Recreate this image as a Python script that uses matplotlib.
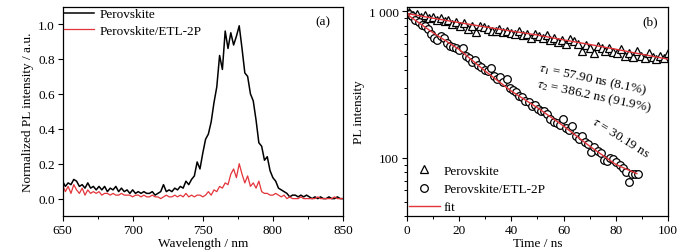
import numpy as np
import matplotlib
matplotlib.use("Agg")
import matplotlib.pyplot as plt
from matplotlib.ticker import MultipleLocator, FixedLocator, FixedFormatter, LogLocator, NullFormatter

plt.rcParams['font.family'] = ['Liberation Serif', 'DejaVu Serif']
plt.rcParams['mathtext.fontset'] = 'stix'
plt.rcParams['font.size'] = 9.5

# ---------------- Panel (a): PL spectra ----------------
wavelength = np.arange(650, 851, 2)
pl_perovskite = [
    0.10, 0.07, 0.09, 0.08, 0.11, 0.10, 0.07, 0.08, 0.06, 0.09,
    0.06, 0.07, 0.05, 0.07, 0.05, 0.07, 0.04, 0.06, 0.05, 0.07,
    0.04, 0.06, 0.04, 0.05, 0.03, 0.05, 0.03, 0.04, 0.03, 0.04,
    0.03, 0.03, 0.04, 0.02, 0.03, 0.04, 0.08, 0.04, 0.05, 0.04,
    0.06, 0.05, 0.07, 0.06, 0.10, 0.08, 0.11, 0.13, 0.21, 0.17,
    0.26, 0.34, 0.37, 0.44, 0.55, 0.64, 0.82, 0.74, 0.96, 0.86,
    0.95, 0.88, 0.93, 0.99, 0.86, 0.72, 0.70, 0.60, 0.56, 0.45,
    0.32, 0.30, 0.22, 0.24, 0.16, 0.12, 0.10, 0.06, 0.05, 0.04,
    0.03, 0.01, 0.02, 0.02, 0.01, 0.02, 0.01, 0.02, 0.01, 0.00,
    0.01, 0.00, 0.01, 0.00, 0.00, 0.01, 0.00, 0.00, 0.01, 0.00,
    0.00]
pl_etl = [
    0.08, 0.04, 0.07, 0.03, 0.08, 0.05, 0.03, 0.06, 0.02, 0.05,
    0.03, 0.04, 0.03, 0.04, 0.02, 0.03, 0.03, 0.02, 0.03, 0.02,
    0.02, 0.03, 0.02, 0.02, 0.02, 0.01, 0.02, 0.02, 0.01, 0.02,
    0.01, 0.01, 0.02, 0.01, 0.01, 0.00, 0.01, 0.02, 0.01, 0.01,
    0.02, 0.01, 0.02, 0.01, 0.03, 0.01, 0.02, 0.01, 0.02, 0.02,
    0.01, 0.02, 0.04, 0.02, 0.05, 0.04, 0.07, 0.06, 0.09, 0.08,
    0.14, 0.17, 0.12, 0.20, 0.14, 0.09, 0.13, 0.07, 0.09, 0.06,
    0.10, 0.04, 0.03, 0.03, 0.02, 0.02, 0.03, 0.02, 0.01, 0.02,
    0.00, 0.01, 0.00, 0.00, 0.00, 0.01, 0.00, 0.00, 0.00, 0.00,
    0.00, 0.01, 0.00, 0.00, 0.00, 0.00, 0.00, 0.01, 0.00, 0.00,
    0.00]

# ---------------- Panel (b): TRPL decay ----------------
t_perov = [1.0, 2.5, 4.0, 5.5, 7.0, 8.5, 10.0, 11.5, 13.0, 14.5,
           16.0, 17.5, 19.0, 20.5, 22.0, 23.5, 25.0, 26.5, 28.0, 29.5,
           31.0, 32.5, 34.0, 35.5, 37.0, 38.5, 40.0, 41.5, 43.0, 44.5,
           46.0, 47.5, 49.0, 50.5, 52.0, 53.5, 55.0, 56.5, 58.0, 59.5,
           61.0, 62.5, 64.0, 65.5, 67.0, 68.5, 70.0, 71.5, 73.0, 74.5,
           76.0, 77.5, 79.0, 80.5, 82.0, 83.5, 85.0, 86.5, 88.0, 89.5,
           91.0, 92.5, 94.0, 95.5, 97.0, 98.5, 100.0]
i_perov = [990, 950, 960, 920, 940, 900, 910, 880, 900, 860,
           870, 820, 850, 800, 830, 760, 790, 720, 800, 780,
           760, 740, 730, 760, 720, 740, 710, 700, 730, 690,
           700, 660, 700, 680, 660, 690, 640, 660, 620, 640,
           600, 650, 630, 600, 540, 590, 560, 520, 580, 560,
           540, 560, 530, 520, 550, 500, 520, 490, 540, 500,
           480, 520, 490, 470, 500, 480, 520]
t_etl = [1.0, 2.2, 3.4, 4.6, 5.8, 7.0, 8.2, 9.4, 10.6, 11.8,
         13.0, 14.2, 15.4, 16.6, 17.8, 19.0, 20.2, 21.4, 22.6, 23.8,
         25.0, 26.2, 27.4, 28.6, 29.8, 31.0, 32.2, 33.4, 34.6, 35.8,
         37.0, 38.2, 39.4, 40.6, 41.8, 43.0, 44.2, 45.4, 46.6, 47.8,
         49.0, 50.2, 51.4, 52.6, 53.8, 55.0, 56.2, 57.4, 58.6, 59.8,
         61.0, 62.2, 63.4, 64.6, 65.8, 67.0, 68.2, 69.4, 70.6, 71.8,
         73.0, 74.2, 75.4, 76.6, 77.8, 79.0, 80.2, 81.4, 82.6, 83.8,
         85.0, 86.2, 87.4, 88.6]
i_etl = [955, 930, 880, 850, 810, 790, 760, 700, 660, 640,
         680, 660, 610, 580, 575, 560, 545, 560, 500, 480,
         450, 465, 430, 420, 400, 395, 410, 360, 345, 355,
         330, 345, 300, 290, 280, 265, 260, 245, 240, 225,
         230, 215, 210, 210, 200, 185, 175, 172, 168, 185,
         160, 155, 165, 140, 135, 140, 128, 125, 110, 118,
         112, 108, 96, 95, 100, 98, 93, 90, 85, 80,
         68, 78, 78, 78]
t_fit_perov = [0, 10, 20, 30, 40, 50, 60, 70, 80, 90, 100]
fit_perov = [970, 900, 840, 785, 735, 690, 640, 595, 552, 510, 472]
t_fit_etl = [0, 5, 10, 20, 30, 40, 50, 60, 70, 80, 88]
fit_etl = [960, 830, 718, 552, 392, 286, 220, 165, 120, 90, 78]

red = '#e3343a'

fig = plt.figure(figsize=(6.95, 2.53), dpi=100)
axa = fig.add_axes([0.090, 0.142, 0.4035, 0.828])
axb = fig.add_axes([0.585, 0.142, 0.3765, 0.828])

# panel a
axa.plot(wavelength, pl_perovskite, color='black', lw=1.1, label='Perovskite')
axa.plot(wavelength, pl_etl, color=red, lw=0.9, label='Perovskite/ETL-2P')
axa.set_xlim(650, 850)
axa.set_ylim(-0.1, 1.1)
axa.xaxis.set_major_locator(MultipleLocator(50))
axa.xaxis.set_minor_locator(MultipleLocator(25))
axa.yaxis.set_major_locator(FixedLocator([0.0, 0.2, 0.4, 0.6, 0.8, 1.0]))
axa.yaxis.set_major_formatter(FixedFormatter(['0.0', '0.2', '0.4', '0.6', '0.8', '1.0']))
axa.set_xlabel('Wavelength / nm', labelpad=1)
axa.set_ylabel('Normalized PL intensity / a.u.', labelpad=3)
axa.legend(loc='upper left', frameon=False, handlelength=2.3, borderaxespad=0.0,
           borderpad=0.1, labelspacing=0.35, handletextpad=0.4, fontsize=9.5)
axa.text(0.93, 0.93, '(a)', transform=axa.transAxes, ha='center', va='center')

# panel b
axb.set_yscale('log')
axb.plot(t_perov, i_perov, linestyle='none', marker='^', ms=6, mfc='white',
         mec='black', mew=0.9, label='Perovskite')
axb.plot(t_etl, i_etl, linestyle='none', marker='o', ms=5.5, mfc='white',
         mec='black', mew=0.9, label='Perovskite/ETL-2P')
axb.plot(t_fit_perov, fit_perov, color=red, lw=1.0, label='fit')
axb.plot(t_fit_etl, fit_etl, color=red, lw=1.0)
axb.set_xlim(0, 100)
axb.set_ylim(40, 1080)
axb.xaxis.set_major_locator(MultipleLocator(20))
axb.xaxis.set_minor_locator(MultipleLocator(10))
axb.yaxis.set_major_locator(FixedLocator([100, 1000]))
axb.yaxis.set_major_formatter(FixedFormatter(['100', '1 000']))
axb.yaxis.set_minor_locator(LogLocator(base=10, subs=np.arange(2, 10), numticks=10))
axb.yaxis.set_minor_formatter(NullFormatter())
axb.set_xlabel('Time / ns', labelpad=1)
axb.set_ylabel('PL intensity', labelpad=3)
axb.legend(loc='lower left', frameon=False, handlelength=2.3, borderaxespad=0.1,
           borderpad=0.1, labelspacing=0.45, handletextpad=0.3, fontsize=9.5)
axb.text(0.93, 0.93, '(b)', transform=axb.transAxes, ha='center', va='center')
axb.text(0.50, 0.655, r'$\tau_1$ = 57.90 ns (8.1%)', transform=axb.transAxes,
         ha='left', va='center', rotation=-12, fontsize=9.5)
axb.text(0.49, 0.575, r'$\tau_2$ = 386.2 ns (91.9%)', transform=axb.transAxes,
         ha='left', va='center', rotation=-12, fontsize=9.5)
axb.text(0.70, 0.375, r'$\tau$ = 30.19 ns', transform=axb.transAxes,
         ha='left', va='center', rotation=-32, fontsize=9.5)

for ax in (axa, axb):
    ax.tick_params(which='major', direction='out', length=3.5, width=0.8,
                   top=False, right=False, pad=2)
    ax.tick_params(which='minor', direction='out', length=2, width=0.7,
                   top=False, right=False)
    for s in ax.spines.values():
        s.set_linewidth(0.9)

fig.savefig('out.png', dpi=100)
